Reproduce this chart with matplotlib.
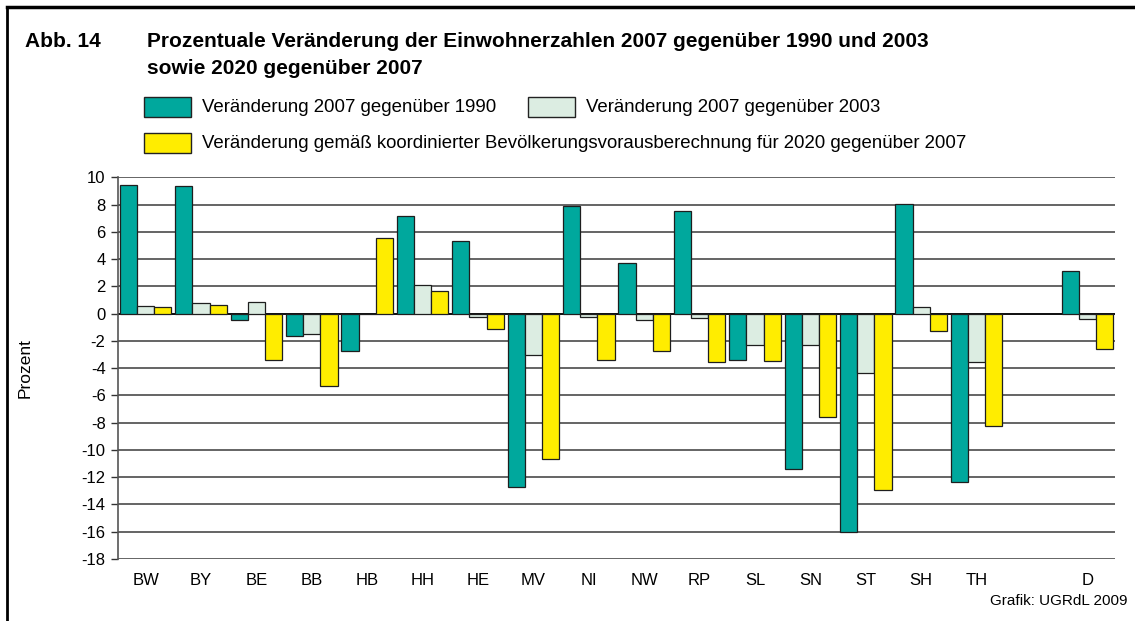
import matplotlib
matplotlib.use("Agg")
import matplotlib.pyplot as plt
from matplotlib.lines import Line2D
from matplotlib.patches import Rectangle
import numpy as np

plt.rcParams["font.family"] = ["Liberation Sans", "DejaVu Sans"]
plt.rcParams["axes.unicode_minus"] = False

# data
laender = ["BW", "BY", "BE", "BB", "HB", "HH", "HE", "MV", "NI", "NW",
           "RP", "SL", "SN", "ST", "SH", "TH", "D"]
slots = [0, 1, 2, 3, 4, 5, 6, 7, 8, 9, 10, 11, 12, 13, 14, 15, 17]
v_1990 = [9.45, 9.37, -0.49, -1.63, -2.72, 7.14, 5.36, -12.70, 7.90, 3.72,
          7.49, -3.40, -11.43, -16.04, 8.05, -12.33, 3.10]
v_2003 = [0.55, 0.78, 0.83, -1.47, -0.05, 2.10, -0.22, -3.03, -0.22, -0.47,
          -0.32, -2.30, -2.32, -4.35, 0.51, -3.52, -0.37]
v_2020 = [0.47, 0.66, -3.38, -5.33, 5.55, 1.64, -1.17, -10.69, -3.40, -2.74,
          -3.57, -3.50, -7.61, -12.97, -1.30, -8.27, -2.57]
labels = ["Veränderung 2007 gegenüber 1990",
          "Veränderung 2007 gegenüber 2003",
          "Veränderung gemäß koordinierter Bevölkerungsvorausberechnung für 2020 gegenüber 2007"]
colors = ["#00A89D", "#DCEDE2", "#FFED00"]

W, H = 1135, 621
fig = plt.figure(figsize=(W / 100, H / 100), dpi=100)
ax = fig.add_axes([118 / W, 1 - 558.8 / H, (1115 - 118) / W, (558.8 - 177.3) / H])

x = np.array(slots, dtype=float)
w = 0.31
for i, vals in enumerate([v_1990, v_2003, v_2020]):
    ax.bar(x + (i - 1) * w, vals, width=w, color=colors[i],
           edgecolor="#1e1e1e", linewidth=0.9, zorder=3)

ax.set_xlim(-0.5, 17.5)
ax.set_ylim(-18, 10)
ax.set_yticks(np.arange(-18, 11, 2))
ax.set_xticks(x)
ax.set_xticklabels(laender)
ax.tick_params(axis="x", length=0, pad=10, labelsize=12)
ax.tick_params(axis="y", length=5, width=1, pad=4, labelsize=12, color="#333333")
ax.yaxis.grid(True, color="#3a3a3a", linewidth=1.1, zorder=1)
ax.axhline(0, color="#111111", linewidth=1.4, zorder=2)
for s in ["top", "right", "bottom"]:
    ax.spines[s].set_visible(False)
ax.spines["left"].set_color("#555555")
ax.spines["left"].set_linewidth(1.2)
ax.set_ylabel("Prozent", fontsize=12.5)
ax.yaxis.set_label_coords((33 - 118) / 997, 0.5)

# title
fig.text(25 / W, 1 - 47 / H, "Abb. 14", fontsize=15, fontweight="bold", va="baseline")
fig.text(147 / W, 1 - 47 / H,
         "Prozentuale Veränderung der Einwohnerzahlen 2007 gegenüber 1990 und 2003",
         fontsize=15, fontweight="bold", va="baseline")
fig.text(147 / W, 1 - 74 / H, "sowie 2020 gegenüber 2007",
         fontsize=15, fontweight="bold", va="baseline")

# legend drawn by hand
leg_pos = [(144, 97), (528, 97), (144, 133)]
for (lx, ly), lab, c in zip(leg_pos, labels, colors):
    fig.patches.append(Rectangle((lx / W, 1 - (ly + 20) / H), 47 / W, 20 / H,
                                 transform=fig.transFigure, facecolor=c,
                                 edgecolor="#222222", linewidth=1))
    fig.text((lx + 58) / W, 1 - (ly + 10) / H, lab, fontsize=13.4, va="center")

fig.text(1127 / W, 1 - 605 / H, "Grafik: UGRdL 2009", fontsize=11, ha="right",
         va="baseline")

# frame
fig.lines.append(Line2D([7 / W, 1], [1 - 7 / H, 1 - 7 / H], transform=fig.transFigure,
                        color="black", linewidth=2.5))
fig.lines.append(Line2D([7 / W, 7 / W], [0, 1 - 7 / H], transform=fig.transFigure,
                        color="black", linewidth=2))

fig.savefig("out.png", dpi=100)
